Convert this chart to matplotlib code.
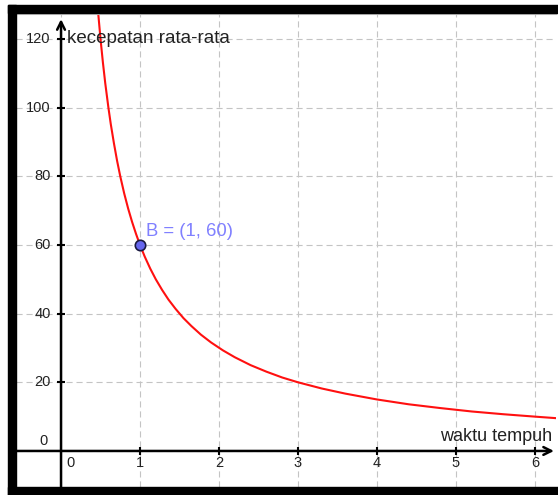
import matplotlib
matplotlib.use("Agg")
import matplotlib.pyplot as plt
from matplotlib.patches import Rectangle

plt.rcParams['font.family'] = ['Liberation Sans', 'DejaVu Sans']

# waktu tempuh (jam) vs kecepatan rata-rata (km/jam)
waktu = [0.47, 0.5, 0.53, 0.56, 0.6, 0.63, 0.67, 0.71, 0.75, 0.8, 0.85, 0.9, 0.95,
         1.0, 1.06, 1.13, 1.2, 1.28, 1.36, 1.45, 1.55, 1.65, 1.77, 1.9, 2.05, 2.2,
         2.4, 2.6, 2.8, 3.0, 3.3, 3.6, 4.0, 4.4, 4.8, 5.2, 5.6, 6.0, 6.3]
kecepatan = [127.7, 120, 113.2, 107.1, 100, 95.2, 89.6, 84.5, 80, 75, 70.6, 66.7, 63.2,
             60, 56.6, 53.1, 50, 46.9, 44.1, 41.4, 38.7, 36.4, 33.9, 31.6, 29.3, 27.3,
             25, 23.1, 21.4, 20, 18.2, 16.7, 15, 13.6, 12.5, 11.5, 10.7, 10, 9.5]
titik_B = (1, 60)
x_ticks = [0, 1, 2, 3, 4, 5, 6]
y_ticks = [0, 20, 40, 60, 80, 100, 120]

W, H = 558, 495
fig = plt.figure(figsize=(W / 100, H / 100), dpi=100)
ax = fig.add_axes([16 / W, 8 / H, (556 - 16) / W, (487 - 14) / H])
ax.set_xlim(-0.57, 6.266)
ax.set_ylim(-10.5, 127.3)

# dashed grid
ax.set_xticks(x_ticks)
ax.set_yticks(y_ticks)
ax.tick_params(length=0, labelbottom=False, labelleft=False)
ax.grid(True, color='#c4c4c4', linestyle=(0, (5.5, 3.5)), linewidth=0.8)
for s in ['left', 'right', 'bottom']:
    ax.spines[s].set_visible(False)
ax.spines['top'].set_color('#cccccc')
ax.spines['top'].set_linewidth(1.5)

# axes with arrows
ax.annotate('', xy=(6.24, 0), xytext=(-0.57, 0), annotation_clip=False,
            arrowprops=dict(arrowstyle='->', lw=1.8, color='black', mutation_scale=14, shrinkA=0, shrinkB=0))
ax.annotate('', xy=(0, 125.8), xytext=(0, -10.5),
            arrowprops=dict(arrowstyle='->', lw=1.8, color='black', mutation_scale=14, shrinkA=0, shrinkB=0))

# tick marks
ax.plot(x_ticks[1:], [0] * 6, ls='none', marker='|', ms=6, mew=1.5, color='black')
ax.plot([0] * 6, y_ticks[1:], ls='none', marker='_', ms=6, mew=1.5, color='black')

# tick labels
for t in x_ticks[1:]:
    ax.annotate(str(t), xy=(t, 0), xytext=(0, -8.5), textcoords='offset points',
                ha='center', va='center', fontsize=10.5, color='#222222')
ax.annotate('0', xy=(0, 0), xytext=(6.5, -8.5), textcoords='offset points',
            ha='center', va='center', fontsize=10.5, color='#222222')
for v in y_ticks[1:]:
    ax.annotate(str(v), xy=(0, v), xytext=(-7.5, 0), textcoords='offset points',
                ha='right', va='center', fontsize=10.5, color='#222222')
ax.annotate('0', xy=(0, 0), xytext=(-10, 7), textcoords='offset points',
            ha='right', va='center', fontsize=10.5, color='#222222')

# axis labels
ax.annotate('kecepatan rata-rata', xy=(0, 120), xytext=(4.3, 0.5), textcoords='offset points',
            ha='left', va='center', fontsize=13.5, color='#222222')
ax.text(4.80, 4.1, 'waktu tempuh', ha='left', va='center', fontsize=13,
        color='#222222')

# curve and point B
ax.plot(waktu, kecepatan, color='#ff1010', lw=1.5, clip_on=True)
ax.plot(*titik_B, marker='o', ms=7.5, mfc='#6666ee', mec='#1a1a40', mew=1.2, zorder=5)
ax.annotate('B = (1, 60)', xy=titik_B, xytext=(4.3, 10), textcoords='offset points',
            ha='left', va='center', fontsize=13.3, color='#8080ff')

# black window frame
fig.patches.append(Rectangle((8 / W, (H - 13) / H), 1, 8 / H, color='black', transform=fig.transFigure))
fig.patches.append(Rectangle((8 / W, 0), 8 / W, (H - 5) / H, color='black', transform=fig.transFigure))
fig.patches.append(Rectangle((8 / W, 0), 1, 8 / H, color='black', transform=fig.transFigure))

fig.savefig('out.png', dpi=100)
